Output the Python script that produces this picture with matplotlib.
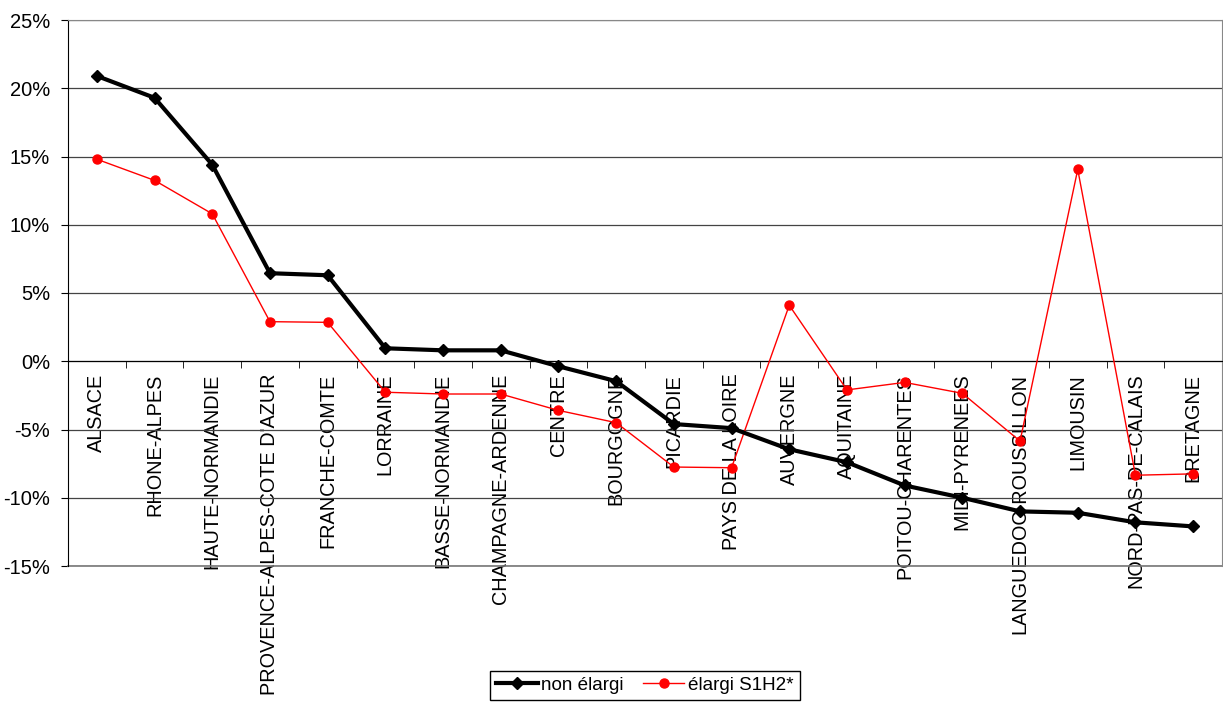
import numpy as np
import matplotlib.pyplot as plt
from matplotlib.ticker import FuncFormatter, MultipleLocator

plt.rcParams['font.family'] = ['Liberation Sans', 'DejaVu Sans']

regions = ['ALSACE', 'RHONE-ALPES', 'HAUTE-NORMANDIE', "PROVENCE-ALPES-COTE D'AZUR",
           'FRANCHE-COMTE', 'LORRAINE', 'BASSE-NORMANDIE', 'CHAMPAGNE-ARDENNE',
           'CENTRE', 'BOURGOGNE', 'PICARDIE', 'PAYS DE LA LOIRE', 'AUVERGNE',
           'AQUITAINE', 'POITOU-CHARENTES', 'MIDI-PYRENEES', 'LANGUEDOC-ROUSSILLON',
           'LIMOUSIN', 'NORD-PAS-DE-CALAIS', 'BRETAGNE']

non_elargi = [20.9, 19.3, 14.4, 6.45, 6.3, 0.95, 0.8, 0.8, -0.37, -1.46,
              -4.6, -4.9, -6.45, -7.4, -9.1, -10.0, -11.0, -11.1, -11.8, -12.1]
elargi = [14.8, 13.25, 10.8, 2.9, 2.85, -2.27, -2.4, -2.4, -3.6, -4.5,
          -7.75, -7.8, 4.1, -2.1, -1.55, -2.35, -5.85, 14.05, -8.35, -8.25]

fig = plt.figure(figsize=(12.23, 7.04), dpi=100)
ax = fig.add_axes([68/1223, 138/704, 1154/1223, 546/704])

x = np.arange(len(regions))
ax.plot(x, non_elargi, color='black', lw=3, marker='D', ms=6, label='non élargi', zorder=4)
ax.plot(x, elargi, color='red', lw=1, marker='o', ms=6.5, label='élargi S1H2*', zorder=3)

ax.set_xlim(-0.5, len(regions) - 0.5)
ax.set_ylim(-15, 25)
ax.yaxis.set_major_locator(MultipleLocator(5))
ax.yaxis.set_major_formatter(FuncFormatter(lambda v, p: '%d%%' % round(v)))
ax.grid(axis='y', color='#444444', lw=0.9)
ax.axhline(-15, color='#777777', lw=1.2, clip_on=False, zorder=1)
ax.set_axisbelow(True)

# category axis crossing at 0
ax.spines['bottom'].set_position(('data', 0))
ax.spines['bottom'].set_color('black')
ax.spines['left'].set_color('black')
for s in ['top', 'right']:
    ax.spines[s].set_color('#888888')
ax.set_xticks(x)
ax.set_xticklabels(regions, rotation=90, va='top', ha='center', fontsize=14.3)
ax.set_xticks(np.arange(-0.5, len(regions)), minor=True)
ax.tick_params(axis='x', which='major', length=0, pad=9)
ax.tick_params(axis='x', which='minor', length=5, direction='out', color='black')
ax.tick_params(axis='y', length=5, direction='out', labelsize=14.5, pad=8)

fig.legend(loc='upper center', bbox_to_anchor=(645/1223, 1 - 671/704), ncol=2,
           fancybox=False, edgecolor='black', framealpha=1, fontsize=13.6,
           handlelength=2.2, handletextpad=0.2, columnspacing=1.0,
           borderpad=0.3, borderaxespad=0)

fig.savefig('out.png', dpi=100)
